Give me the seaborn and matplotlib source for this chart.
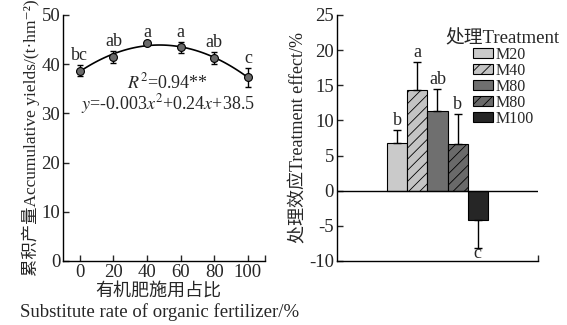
import numpy as np
import pandas as pd
import matplotlib
matplotlib.use("Agg")
import matplotlib.pyplot as plt
import matplotlib.patches as mpatches
import seaborn as sns

# Left panel: accumulative yield vs substitute rate of organic fertilizer
rates = [0, 20, 40, 60, 80, 100]
yields = [38.7, 41.5, 44.3, 43.4, 41.3, 37.3]
yield_err = [1.2, 1.2, 0.3, 1.2, 1.2, 2.0]
yield_letters = ["bc", "ab", "a", "a", "ab", "c"]

# Right panel: treatment effect
treat_ids = ["M20", "M40", "M60", "M80", "M100"]
treat_labels = ["M20", "M40", "M80", "M80", "M100"]
effects = [6.8, 14.3, 11.3, 6.6, -4.1]
effect_err = [1.9, 4.0, 3.2, 4.3, 4.0]
effect_letters = ["b", "a", "ab", "b", "c"]
bar_colors = ["#cacaca", "#c4c4c4", "#6f6f6f", "#6a6a6a", "#262626"]
bar_hatches = ["", "///", "", "///", ""]

sns.set_style("ticks")
plt.rcParams["font.family"] = ["Liberation Serif", "Noto Sans CJK SC", "DejaVu Sans"]
plt.rcParams["mathtext.fontset"] = "stix"
plt.rcParams["axes.unicode_minus"] = False
plt.rcParams["hatch.linewidth"] = 0.6
plt.rcParams["xtick.direction"] = "in"
plt.rcParams["ytick.direction"] = "in"

fs = 13.5    # tick labels
fa = 13      # letters, equation
fl = 13      # axis labels

fig = plt.figure(figsize=(5.67, 3.25), dpi=100)
ax1 = fig.add_axes([0.111, 0.197, 0.356, 0.757])
ax2 = fig.add_axes([0.594, 0.197, 0.355, 0.757])

# ---- left panel ----
df1 = pd.DataFrame({"rate": rates, "yield": yields})
sns.regplot(data=df1, x="rate", y="yield", order=2, ci=None, scatter=False,
            ax=ax1, line_kws={"color": "black", "lw": 1.2})
ax1.errorbar(rates, yields, yerr=yield_err, fmt="none", ecolor="black",
             elinewidth=1.0, capsize=2.5, capthick=1.0, zorder=3)
sns.scatterplot(data=df1, x="rate", y="yield", ax=ax1, color="#6a6a6a",
                edgecolor="black", linewidth=0.8, s=32, zorder=4)
for x, y, e, t in zip(rates, yields, yield_err, yield_letters):
    ax1.text(x, y + e + 0.1, t, ha="center", va="bottom", fontsize=fa)
ax1.text(52, 36.3, r"$R^2$=0.94**", ha="center", va="center", fontsize=fa)
ax1.text(52.5, 32.0, r"$y$=-0.003$x^2$+0.24$x$+38.5", ha="center", va="center", fontsize=fa)

ax1.set_xlim(-10, 110)
ax1.set_ylim(0, 50)
ax1.set_xticks([0, 20, 40, 60, 80, 100])
ax1.set_xticks([110], minor=True)
ax1.set_yticks([0, 10, 20, 30, 40, 50])
ax1.tick_params(labelsize=fs, length=4, width=1, pad=2)
ax1.tick_params(which="minor", length=4, width=1)
ax1.set_xlabel("")
ax1.set_ylabel("累积产量Accumulative yields/(t·hm⁻²)", fontsize=12.5, labelpad=1)
fig.text(0.279, 0.1, "有机肥施用占比", ha="center", va="center", fontsize=fl)
fig.text(0.282, 0.04, "Substitute rate of organic fertilizer/%", ha="center",
         va="center", fontsize=13.5)
sns.despine(ax=ax1)
for s in ["left", "bottom"]:
    ax1.spines[s].set_linewidth(1.0)
    ax1.spines[s].set_color("black")

# ---- right panel ----
df2 = pd.DataFrame({"treat": treat_ids, "effect": effects})
sns.barplot(data=df2, x="treat", y="effect", hue="treat", palette=bar_colors,
            width=1.0, edgecolor="black", linewidth=0.8, legend=False, ax=ax2)
for bar, h in zip(ax2.patches, bar_hatches):
    bar.set_hatch(h)
pos = np.arange(len(treat_ids))
up = [e if v >= 0 else 0 for v, e in zip(effects, effect_err)]
down = [e if v < 0 else 0 for v, e in zip(effects, effect_err)]
ax2.errorbar(pos, effects, yerr=[down, up], fmt="none", ecolor="black",
             elinewidth=1.0, capsize=3, capthick=1.0, zorder=3)
for x, y, e, t in zip(pos, effects, effect_err, effect_letters):
    if y >= 0:
        ax2.text(x, y + e + 0.1, t, ha="center", va="bottom", fontsize=fa)
    else:
        ax2.text(x, y - e + 0.4, t, ha="center", va="top", fontsize=fa)
ax2.axhline(0, color="black", lw=1.0)

ax2.set_xlim(-3, 7)
ax2.set_ylim(-10, 25)
ax2.set_xticks([])
ax2.set_xticks([7], minor=True)
ax2.set_yticks(range(-10, 26, 5))
ax2.tick_params(labelsize=fs, length=4, width=1, pad=2)
ax2.tick_params(which="minor", length=4, width=1)
ax2.set_xlabel("")
ax2.set_ylabel("处理效应Treatment effect/%", fontsize=fl, labelpad=1)
sns.despine(ax=ax2)
for s in ["left", "bottom"]:
    ax2.spines[s].set_linewidth(1.0)
    ax2.spines[s].set_color("black")

handles = [mpatches.Patch(facecolor=c, edgecolor="black", hatch=h, linewidth=0.8)
           for c, h in zip(bar_colors, bar_hatches)]
ax2.legend(handles, treat_labels, loc="upper left",
           bbox_to_anchor=(0.677, 0.87), frameon=False, fontsize=11.5,
           handlelength=1.25, handleheight=0.56,
           labelspacing=0.0, handletextpad=0.15, borderpad=0.0,
           borderaxespad=0)
ax2.text(0.821, 0.904, "处理Treatment", transform=ax2.transAxes,
         ha="center", va="center", fontsize=13.5)

fig.savefig("out.png", dpi=100)
